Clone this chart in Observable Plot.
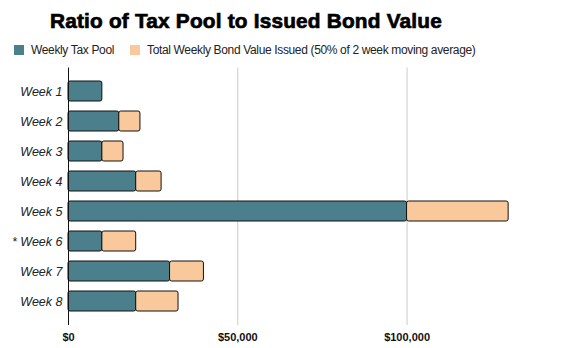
<!DOCTYPE html>
<html>
<head>
<meta charset="utf-8">
<script src="https://cdn.jsdelivr.net/npm/d3@7"></script>
<script src="https://cdn.jsdelivr.net/npm/@observablehq/plot@0.6"></script>
<style>
  body { margin: 0; background: #fff; font-family: "Liberation Sans", Arial, sans-serif; }
  #wrap { width: 561px; height: 348px; position: relative; overflow: hidden; }
  #title { height: 40px; font-size: 20.8px; font-weight: 900; text-align: left; padding-left: 50px; line-height: 42px; color: #000; -webkit-text-stroke: 0.7px #000; letter-spacing: 0.2px; white-space: nowrap; }
  #legend { height: 20px; font-size: 12px; color: #222; display: flex; align-items: center; padding-left: 14px; letter-spacing: -0.35px; }
  .sw { width: 10px; height: 10px; display: inline-block; margin-right: 7px; }
  .item { display: flex; align-items: center; margin-right: 16px; }
  svg { display: block; }
</style>
</head>
<body>
<div id="wrap">
  <div id="title">Ratio of Tax Pool to Issued Bond Value</div>
  <div id="legend"></div>
  <div id="chart"></div>
</div>
<script>
const weeks = ["Week 1", "Week 2", "Week 3", "Week 4", "Week 5", "* Week 6", "Week 7", "Week 8"];
const taxPool = [10000, 15000, 10000, 20000, 100000, 10000, 30000, 20000];
const bondIssued = [0, 6250, 6250, 7500, 30000, 10000, 10000, 12500];
const seriesNames = ["Weekly Tax Pool", "Total Weekly Bond Value Issued (50% of 2 week moving average)"];
const seriesColors = ["#4a7f8b", "#f9c99b"];
const xTicks = [0, 50000, 100000];

const legend = document.getElementById("legend");
seriesNames.forEach((n, i) => {
  const it = document.createElement("span");
  it.className = "item";
  it.innerHTML = `<span class="sw" style="background:${seriesColors[i]}"></span>${n}`;
  legend.appendChild(it);
});

const data = [];
weeks.forEach((w, i) => {
  data.push({week: w, series: seriesNames[0], value: taxPool[i]});
  data.push({week: w, series: seriesNames[1], value: bondIssued[i]});
});

const chart = Plot.plot({
  width: 561,
  height: 288,
  marginTop: 7.5,
  marginBottom: 23,
  marginLeft: 68,
  marginRight: 19,
  style: {fontFamily: "Liberation Sans, Arial, sans-serif", background: "#fff"},
  x: {domain: [0, 140000], ticks: xTicks, label: null},
  y: {domain: weeks, label: null, paddingInner: 0.32, paddingOuter: 0, range: [17, 255]},
  color: {domain: seriesNames, range: seriesColors},
  marks: [
    Plot.gridX(xTicks.slice(1), {stroke: "#cccccc", strokeOpacity: 1}),
    Plot.barX(data, Plot.stackX({
      x: "value", y: "week", fill: "series", order: seriesNames,
      stroke: "#111", strokeWidth: 1, rx: 2
    })),
    Plot.ruleX([0], {stroke: "#111", strokeWidth: 1}),
    Plot.axisX({ticks: xTicks, tickSize: 0, tickPadding: 8, fontSize: 11, fontWeight: "bold",
      tickFormat: d => "$" + d3.format(",")(d), fill: "#111"}),
    Plot.axisY({tickSize: 0, tickPadding: 6, fontSize: 12.5, fontStyle: "italic", fill: "#222"})
  ]
});
document.getElementById("chart").appendChild(chart);
</script>
</body>
</html>
